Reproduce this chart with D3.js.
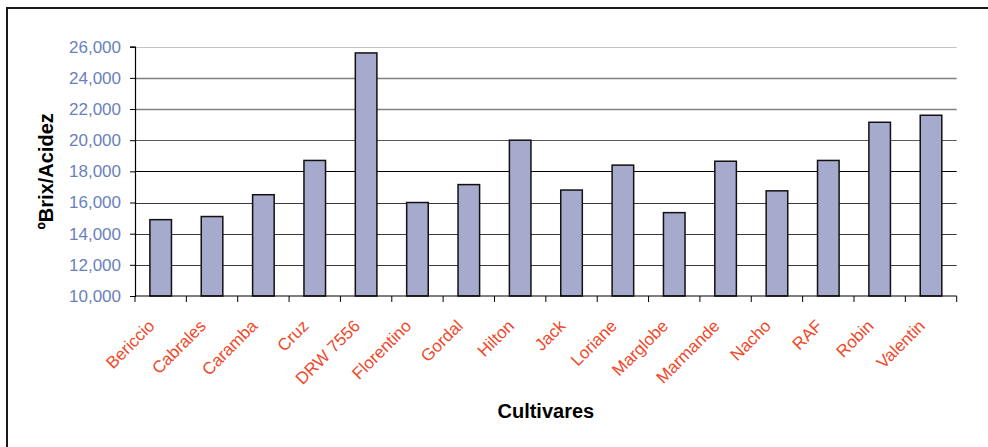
<!DOCTYPE html>
<html>
<head>
<meta charset="utf-8">
<script src="https://cdn.jsdelivr.net/npm/d3@7"></script>
<style>
  html, body { margin: 0; padding: 0; background: #fff; }
  svg { display: block; font-family: Arial, "Liberation Sans", sans-serif; }
</style>
</head>
<body>
<svg id="chart" width="988" height="447"></svg>
<script>
// Cultivars and their ºBrix/acidity ratio
const cultivars = ["Bericcio", "Cabrales", "Caramba", "Cruz", "DRW 7556", "Florentino",
  "Gordal", "Hilton", "Jack", "Loriane", "Marglobe", "Marmande", "Nacho", "RAF", "Robin", "Valentin"];
const brixAcid = [14900, 15100, 16500, 18700, 25600, 16000,
  17150, 20000, 16800, 18400, 15350, 18650, 16750, 18700, 21150, 21600];
const yTicks = [10000, 12000, 14000, 16000, 18000, 20000, 22000, 24000, 26000];
const yTitle = "ºBrix/Acidez";
const xTitle = "Cultivares";

const svg = d3.select("#chart");
const plot = { left: 135, right: 956.7, top: 46.7, bottom: 296 };

// Outer chart frame (open on the right and bottom edges of the page)
svg.append("rect")
  .attr("x", 7).attr("y", 8).attr("width", 1100).attr("height", 600)
  .attr("fill", "#fff").attr("stroke", "#1a1a1a").attr("stroke-width", 2);

const x = d3.scaleBand()
  .domain(cultivars)
  .range([plot.left, plot.right])
  .paddingInner(0.58)
  .paddingOuter(0.29);

const y = d3.scaleLinear()
  .domain([10000, 26000])
  .range([plot.bottom, plot.top]);

// Horizontal gridlines
const gridColor = v => v === 26000 ? "#c4c4c4" : (v >= 22000 ? "#808080" : (v === 20000 ? "#5a5a5a" : (v === 18000 ? "#000" : "#3a3a3a")));
svg.append("g")
  .selectAll("line")
  .data(yTicks.filter(v => v > 10000))
  .join("line")
  .attr("x1", plot.left).attr("x2", plot.right)
  .attr("y1", d => Math.round(y(d)) + 0.5).attr("y2", d => Math.round(y(d)) + 0.5)
  .attr("stroke", d => gridColor(d))
  .attr("stroke-width", d => (d === 24000 || d === 22000) ? 1.6 : 1);

// Bars
svg.append("g")
  .selectAll("rect")
  .data(cultivars.map((c, i) => ({ c, v: brixAcid[i] })))
  .join("rect")
  .attr("x", d => x(d.c))
  .attr("y", d => y(d.v))
  .attr("width", x.bandwidth())
  .attr("height", d => y(10000) - y(d.v))
  .attr("fill", "#a6aacc")
  .attr("stroke", "#111")
  .attr("stroke-width", 1.5);

// Y axis
const yAxis = svg.append("g")
  .attr("transform", `translate(${plot.left},0)`)
  .call(d3.axisLeft(y).tickValues(yTicks).tickSize(5).tickPadding(9)
    .tickFormat(d => d3.format(",")(d / 1000) + ",000"));
yAxis.select(".domain").attr("stroke", "#000").attr("stroke-width", 1.2);
yAxis.selectAll(".tick line").attr("stroke", "#000");
yAxis.selectAll(".tick text")
  .attr("fill", "#6a7fbd")
  .attr("font-size", 17)
  .attr("font-family", "Arial, 'Liberation Sans', sans-serif");

// X axis line with ticks at category boundaries
svg.append("line")
  .attr("x1", plot.left).attr("x2", plot.right)
  .attr("y1", plot.bottom).attr("y2", plot.bottom)
  .attr("stroke", "#000").attr("stroke-width", 1.2);
const boundaries = d3.range(cultivars.length + 1).map(i => plot.left + i * x.step());
svg.append("g")
  .selectAll("line")
  .data(boundaries)
  .join("line")
  .attr("x1", d => d).attr("x2", d => d)
  .attr("y1", plot.bottom).attr("y2", plot.bottom + 6)
  .attr("stroke", "#000");

// Category labels, rotated
svg.append("g")
  .selectAll("text")
  .data(cultivars)
  .join("text")
  .attr("transform", d => `translate(${x(d) + x.bandwidth() / 2 - 5},${plot.bottom + 31}) rotate(-45)`)
  .attr("text-anchor", "end")
  .attr("font-size", 17)
  .attr("fill", "#f0482a")
  .text(d => d);

// Axis titles
svg.append("text")
  .attr("transform", `translate(53,${(plot.top + plot.bottom) / 2}) rotate(-90)`)
  .attr("text-anchor", "middle")
  .attr("font-size", 20)
  .attr("font-weight", "bold")
  .attr("fill", "#000")
  .text(yTitle);

svg.append("text")
  .attr("x", (plot.left + plot.right) / 2)
  .attr("y", 418)
  .attr("text-anchor", "middle")
  .attr("font-size", 20)
  .attr("font-weight", "bold")
  .attr("fill", "#000")
  .text(xTitle);
</script>
</body>
</html>
